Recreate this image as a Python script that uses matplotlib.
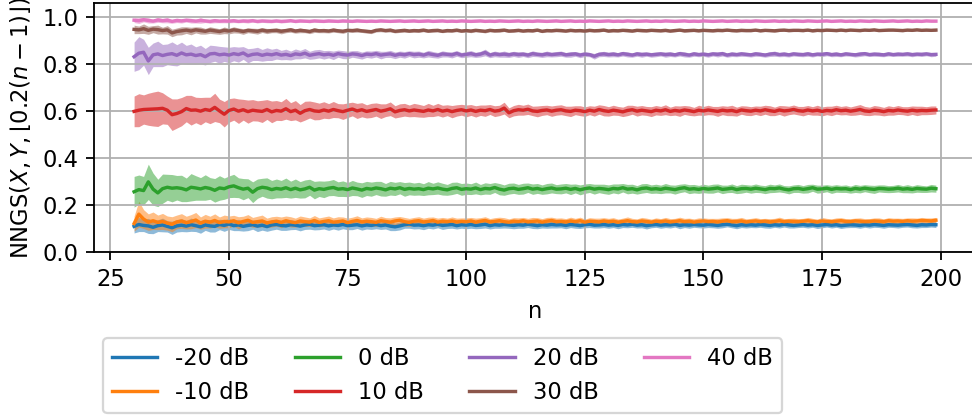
import numpy as np
import matplotlib
matplotlib.use("Agg")
import matplotlib.pyplot as plt

n_values = list(range(30, 200))
labels = ["-20 dB", "-10 dB", "0 dB", "10 dB", "20 dB", "30 dB", "40 dB"]

# means (thousandths), n = 30..199
mean_m20 = [
110,118,114,112,106,113,116,110,104,112,
115,111,117,113,108,116,112,110,118,114,
120,113,116,110,114,117,111,115,109,116,
118,114,112,117,115,111,116,119,113,115,
117,112,116,114,118,113,115,117,112,116,
114,118,113,116,111,108,112,117,120,115,
116,113,117,115,119,114,116,118,113,117,
115,118,114,116,119,113,117,115,118,116,
114,117,115,119,116,113,117,115,118,116,
117,114,118,116,113,117,119,115,116,118,
115,117,114,118,116,119,115,117,113,116,
118,115,117,116,119,114,117,115,118,116,
115,118,116,114,117,119,116,113,117,115,
117,115,118,116,114,117,115,119,116,114,
116,118,115,117,114,116,118,115,117,113,
115,117,116,114,117,115,118,116,114,117,
116,115,117,118,116,114,117,116,118,117]
hw_m20 = [
28,30,26,32,27,25,29,24,28,26,
27,24,28,25,27,23,26,24,22,25,
23,21,24,20,22,19,23,21,20,22,
20,21,19,21,18,20,19,21,18,19,
18,19,17,20,18,17,19,16,18,17,
17,18,16,17,19,16,17,15,18,16,
16,17,15,16,15,17,15,16,14,15,
15,16,14,15,16,14,15,13,15,14,
14,15,13,14,15,13,14,13,15,13,
13,14,13,14,12,13,14,12,13,13,
13,12,14,13,12,13,12,13,14,12,
12,13,12,13,12,14,12,13,12,12,
12,13,12,12,13,11,12,13,12,12,
12,11,12,13,12,11,12,12,13,11,
11,12,12,11,13,12,11,12,11,12,
11,12,11,12,11,12,12,11,12,11,
11,12,11,11,12,11,12,11,11,12]

mean_m10 = [
122,162,141,128,134,127,131,124,119,129,
133,126,130,137,124,132,128,135,126,131,
129,134,125,131,136,127,130,133,125,129,
132,127,134,129,126,133,130,128,135,127,
131,134,128,130,133,126,131,135,129,132,
130,127,134,131,128,133,136,130,127,132,
134,129,131,135,128,132,130,133,129,131,
130,133,128,132,135,129,131,134,130,128,
132,130,134,129,131,133,128,132,135,130,
131,129,133,130,134,128,132,131,129,133,
130,132,128,131,134,130,129,133,131,128,
132,130,133,129,131,134,130,132,128,131,
133,130,131,129,132,134,130,131,133,129,
131,133,130,132,129,131,134,130,132,131,
130,132,134,131,129,133,131,130,132,134,
131,130,133,132,130,131,133,132,130,134,
132,133,131,134,132,133,135,134,133,136]
hw_m10 = [
32,55,40,35,37,31,34,30,32,29,
31,27,30,32,26,29,25,28,24,27,
25,23,26,22,24,21,23,25,20,22,
21,23,20,22,19,21,20,18,21,19,
19,20,18,21,17,19,18,20,17,18,
18,17,19,16,18,17,16,18,17,16,
17,16,18,15,17,16,15,17,16,15,
16,15,17,15,16,14,16,15,17,14,
15,16,14,15,17,14,15,16,14,15,
15,14,16,14,15,13,15,14,16,14,
14,15,13,14,16,14,13,15,14,13,
14,13,15,14,13,15,14,13,14,15,
13,14,13,15,14,13,14,13,15,13,
13,14,13,12,14,13,15,13,12,14,
13,12,14,13,12,15,13,12,14,13,
12,13,12,14,13,12,13,14,12,13,
13,12,13,12,14,12,13,12,13,12]

mean_0 = [
257,266,262,299,268,252,270,276,272,274,
271,265,276,273,269,275,271,263,273,270,
278,282,274,268,272,255,270,276,273,266,
271,268,274,266,272,265,269,276,264,270,
267,272,275,268,270,266,273,269,264,271,
268,273,270,265,272,269,274,267,271,268,
270,266,272,269,273,268,265,271,274,267,
270,268,273,266,271,269,275,268,264,270,
272,267,270,274,268,271,266,270,273,268,
269,272,267,271,265,270,273,268,271,269,
266,271,269,274,268,270,265,271,273,268,
270,267,272,269,266,271,274,268,270,267,
271,268,270,273,267,269,272,266,270,271,
268,272,269,266,271,270,273,268,265,270,
271,267,270,274,268,269,272,267,271,269,
270,266,271,268,272,269,267,271,270,268,
269,272,268,270,267,271,269,268,272,270]
hw_0 = [
65,62,60,75,68,58,62,55,58,52,
56,50,58,52,48,54,46,50,52,45,
46,49,42,45,40,44,41,38,43,39,
40,37,41,36,39,35,38,34,37,33,
35,32,34,31,33,30,32,29,31,30,
30,28,31,27,29,28,26,29,27,26,
27,25,28,24,26,25,23,26,24,25,
24,23,25,22,24,23,21,24,22,23,
22,21,23,20,22,21,20,22,21,19,
21,20,22,19,21,20,19,21,18,20,
20,19,21,18,20,19,18,20,19,18,
19,18,20,17,19,18,17,19,18,17,
18,17,19,17,18,16,18,17,19,16,
17,18,16,17,18,16,17,15,17,16,
17,16,18,15,17,16,15,17,16,15,
16,15,17,16,15,16,17,15,16,15,
15,16,15,17,15,16,15,14,16,15]

mean_10 = [
598,603,606,607,608,609,611,603,584,589,
597,610,603,604,599,606,602,615,600,586,
602,608,599,605,597,603,600,598,606,596,
602,599,609,597,603,590,601,606,600,598,
604,599,606,601,597,603,608,600,605,598,
602,606,599,603,609,596,602,605,600,604,
601,598,604,600,606,599,603,597,602,605,
600,604,598,603,601,606,599,602,612,592,
601,605,603,607,600,598,602,604,599,603,
605,600,598,603,601,597,603,599,606,601,
598,603,600,596,602,605,599,603,600,597,
603,600,605,598,602,599,604,601,597,603,
600,604,601,598,603,600,602,597,604,601,
599,603,600,605,601,598,604,600,602,606,
601,599,604,600,603,598,602,600,605,601,
603,599,602,606,600,598,603,601,597,602,
600,604,601,599,603,600,602,601,603,604]
hw_10 = [
65,70,62,68,72,75,66,60,67,62,
60,56,63,54,58,52,56,60,50,54,
50,47,52,44,49,45,43,47,42,46,
42,40,44,38,41,37,40,36,38,35,
35,32,34,30,33,31,29,32,30,28,
30,28,31,27,29,26,28,27,25,28,
27,25,28,24,26,25,23,26,24,23,
25,23,24,22,24,21,23,22,25,21,
22,23,21,22,20,23,21,20,22,21,
21,20,22,19,21,20,19,21,20,22,
20,21,19,20,22,19,21,20,19,21,
20,19,21,18,20,22,19,20,18,21,
19,20,18,21,19,20,22,19,18,20,
19,18,20,19,21,18,19,22,18,19,
18,20,19,18,21,19,18,20,19,18,
19,18,20,21,19,18,20,19,18,20,
18,19,17,19,18,20,18,17,18,17]

mean_20 = [
830,845,849,812,838,842,835,840,843,836,
846,838,841,835,839,830,842,844,838,841,
837,843,839,846,834,840,842,836,841,838,
843,837,840,835,842,839,845,836,840,843,
838,841,836,843,839,837,842,840,835,841,
839,843,837,840,842,836,841,838,843,839,
841,837,843,839,836,842,840,838,844,837,
840,843,838,841,848,837,842,839,841,838,
842,839,841,837,843,840,838,842,839,841,
843,838,840,842,837,841,839,832,840,842,
839,841,838,843,840,837,842,839,841,838,
840,842,839,841,838,843,840,837,842,839,
841,838,842,840,843,837,841,839,842,840,
838,842,840,837,841,843,839,841,838,842,
840,839,842,838,841,840,843,839,841,838,
842,840,838,841,843,839,841,840,838,842,
839,841,840,842,839,841,840,842,839,840]
hw_20 = [
62,70,55,58,50,54,47,44,50,45,
46,40,43,37,40,35,37,33,36,31,
33,30,32,27,30,26,28,25,27,24,
23,20,22,19,21,18,20,17,19,18,
18,16,18,15,17,16,14,16,15,14,
15,14,16,13,15,14,13,14,12,14,
13,12,14,13,12,13,11,13,12,11,
12,13,11,12,14,11,12,11,13,11,
11,12,10,11,12,10,11,12,10,11,
11,10,12,10,11,10,9,12,10,11,
10,11,9,10,11,9,10,11,9,10,
10,9,11,10,9,10,11,9,10,9,
9,10,9,11,10,9,10,9,10,9,
9,10,9,9,10,11,9,10,9,9,
9,9,10,9,8,10,9,9,10,8,
9,8,9,10,9,8,9,9,8,9,
8,9,8,9,9,8,9,8,9,8]

mean_30 = [
946,944,949,942,947,945,941,944,931,937,
940,943,939,944,941,938,943,940,937,942,
939,944,941,937,942,940,938,943,939,941,
942,938,941,944,939,942,940,937,943,940,
941,939,943,940,938,942,941,943,940,938,
936,942,944,941,943,938,940,942,939,941,
940,943,939,941,942,938,941,940,943,939,
941,939,942,940,938,942,940,941,943,939,
940,942,939,941,940,943,938,941,940,942,
941,939,942,940,941,939,942,940,941,943,
939,941,940,942,941,939,942,941,940,942,
941,940,942,939,941,943,940,941,942,940,
942,941,940,942,941,943,941,940,942,941,
941,943,940,942,941,940,942,943,941,942,
942,941,943,940,942,941,943,942,941,943,
941,943,942,941,943,942,944,941,942,943,
943,942,941,943,942,944,942,943,942,943]
hw_30 = [
18,16,20,17,15,19,14,18,16,15,
17,14,16,13,15,12,14,13,12,14,
12,13,11,12,10,11,12,10,11,9,
10,11,9,10,9,10,8,9,10,8,
9,8,9,8,9,7,8,9,7,8,
8,7,8,7,8,7,7,8,6,7,
7,7,6,7,7,6,7,6,7,6,
6,7,6,6,7,6,6,7,6,6,
6,6,5,6,6,5,6,6,5,6,
6,5,6,5,6,5,6,5,6,5,
5,6,5,5,6,5,5,6,5,5,
5,5,6,5,5,5,6,5,5,5,
5,5,5,6,5,5,5,5,6,5,
5,5,5,5,5,6,5,5,5,5,
5,5,4,5,5,5,5,4,5,5,
5,4,5,5,4,5,5,4,5,5,
4,5,5,4,5,4,5,5,4,5]

mean_40 = [
985,983,987,984,981,986,983,985,980,984,
982,985,983,981,984,982,980,983,981,982,
981,983,980,982,981,983,980,982,981,980,
982,980,981,983,980,982,981,980,982,981,
980,982,981,980,982,981,980,982,981,980,
981,980,982,981,980,981,982,980,981,982,
980,981,982,980,981,982,980,981,980,982,
981,980,981,982,980,981,980,982,981,980,
981,982,980,981,980,982,981,980,981,982,
980,981,982,980,981,980,982,981,980,981,
982,980,981,980,982,981,980,981,982,980,
981,980,982,981,980,981,982,980,981,980,
982,981,980,981,982,980,981,982,980,981,
980,982,981,980,981,982,980,981,980,982,
981,980,982,981,980,981,982,980,981,982,
980,981,980,982,981,980,982,981,980,981,
982,980,981,982,980,981,980,982,981,981]
hw_40 = [
10,12,9,11,8,10,9,11,8,9,
9,8,10,8,12,7,8,9,7,8,
7,8,6,7,8,6,7,6,7,6,
6,7,6,5,6,6,5,6,5,6,
5,6,5,5,6,5,5,4,5,5,
5,4,5,5,4,5,4,5,4,5,
4,5,4,4,5,4,4,5,4,4,
4,4,5,4,4,4,5,4,4,4,
4,4,4,3,4,4,4,3,4,4,
4,3,4,4,3,4,4,3,4,3,
3,4,3,4,3,4,3,3,4,3,
3,3,4,3,3,4,3,3,3,4,
3,3,3,4,3,3,3,4,3,3,
3,3,3,3,4,3,3,3,3,3,
3,3,3,3,3,3,3,3,3,3,
3,3,3,3,3,3,3,3,3,3,
3,3,3,3,3,3,3,3,3,3]

means = [mean_m20, mean_m10, mean_0, mean_10, mean_20, mean_30, mean_40]
halfwidths = [hw_m20, hw_m10, hw_0, hw_10, hw_20, hw_30, hw_40]
colors = ["#1f77b4", "#ff7f0e", "#2ca02c", "#d62728", "#9467bd", "#8c564b", "#e377c2"]

DPI = 163
fig = plt.figure(figsize=(972 / DPI, 415 / DPI), dpi=DPI)
ax = fig.add_axes([94/972, 1 - 252.3/415, (976-94)/972, (252.3-3)/415])

x = np.array(n_values)
for m, h, c, lab in zip(means, halfwidths, colors, labels):
    m = np.array(m) / 1000.0
    h = np.array(h) / 1000.0
    ax.fill_between(x, m - h, m + h, color=c, alpha=0.5, linewidth=0)
    ax.plot(x, m, color=c, linewidth=1.5, label=lab)

ax.set_xlim(21.55, 207.45)
ax.set_ylim(0, 1.058)
ax.set_xticks([25, 50, 75, 100, 125, 150, 175, 200])
ax.set_yticks([0.0, 0.2, 0.4, 0.6, 0.8, 1.0])
ax.grid(True)
ax.set_xlabel("n")
ax.set_ylabel(r"NNGS$(X, Y, \lfloor 0.2(n-1) \rfloor)$")

fig.legend(loc="upper left", bbox_to_anchor=(103/972, 1 - 338/415), ncol=4,
           borderaxespad=0, frameon=True)

fig.savefig("out.png", dpi=DPI)
